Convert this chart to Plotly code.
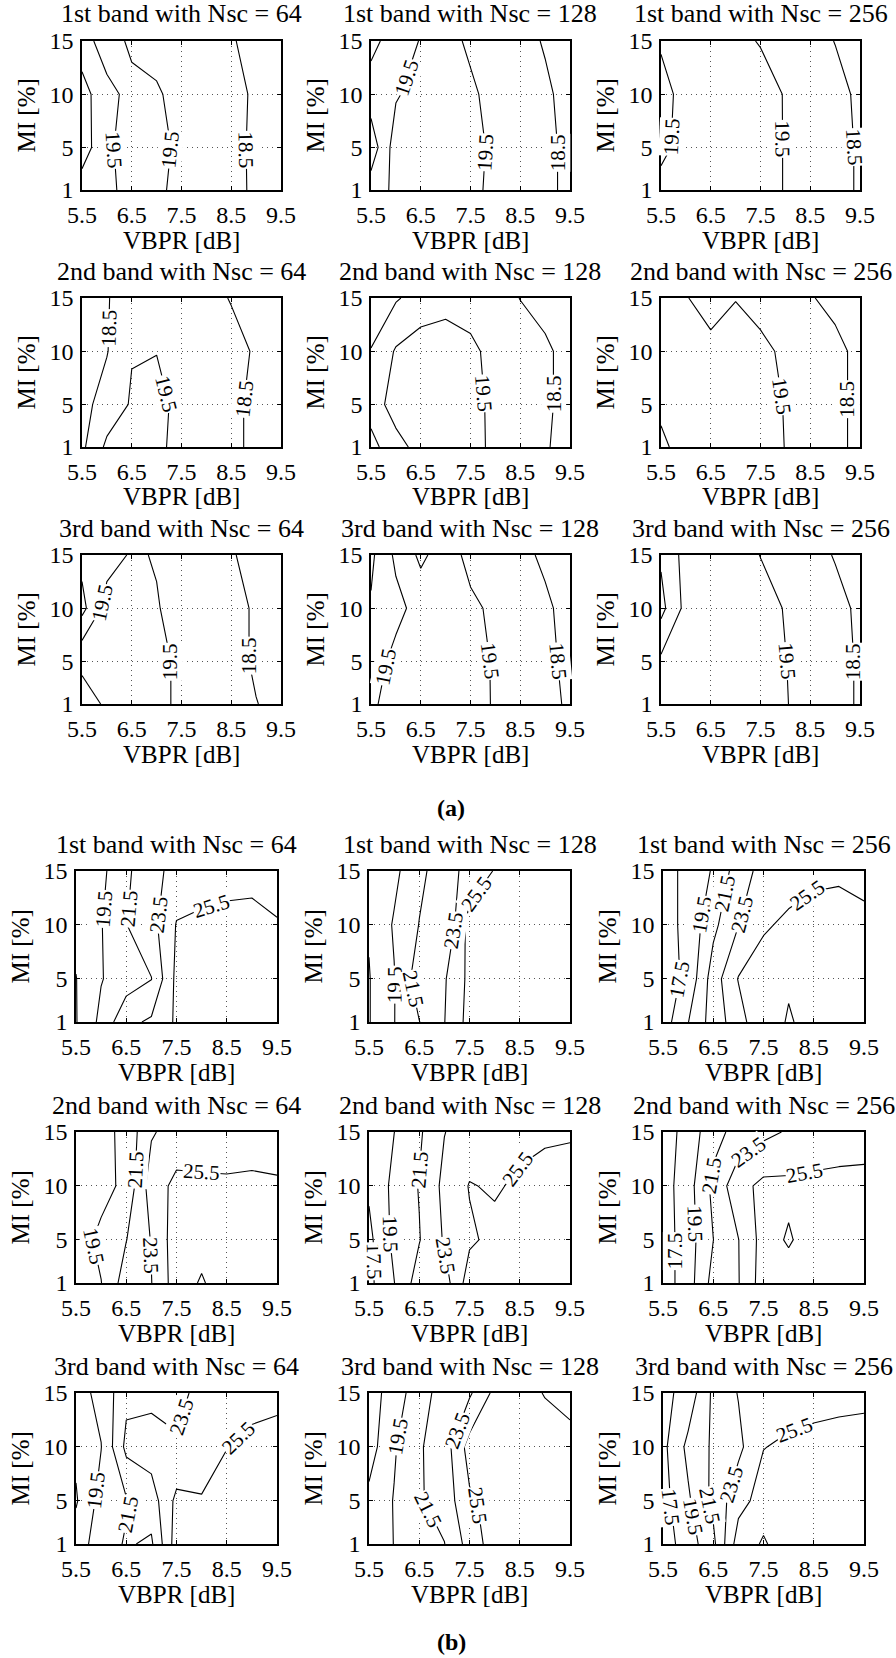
import math
import plotly.graph_objects as go

# Grid of the simulations
VBPR = [5.5, 6.0, 6.5, 7.0, 7.5, 8.0, 8.5, 9.0, 9.5]   # dB
MI = [1, 5, 10, 15]                                     # %
X_TICKS = [5.5, 6.5, 7.5, 8.5, 9.5]
X_TICK_TEXT = ["5.5", "6.5", "7.5", "8.5", "9.5"]
Y_TICKS = [1, 5, 10, 15]
Y_TICK_TEXT = ["1", "5", "10", "15"]
BANDS = ["1st", "2nd", "3rd"]
NSC = [64, 128, 256]

# ---- (a) : rows are MI = 1, 5, 10, 15 ; columns are VBPR 5.5 ... 9.5 ----
a_1st_64 = [
    [19.0, 19.3, 19.8, 19.7, 19.2, 18.9, 18.7, 18.38, 18.1],
    [18.0, 19.3, 20.0, 19.9, 19.2, 18.9, 18.65, 18.4, 18.2],
    [18.1, 19.2, 19.8, 19.6, 19.2, 19.0, 18.7, 18.4, 18.2],
    [19.05, 20.0, 19.3, 19.2, 19.0, 18.8, 18.55, 18.3, 18.1],
]
a_1st_128 = [
    [19.0, 19.7, 20.0, 19.9, 19.7, 19.3, 19.0, 18.7, 18.3],
    [17.9, 20.0, 20.1, 20.0, 19.8, 19.3, 19.0, 18.7, 18.3],
    [19.0, 19.4, 19.9, 19.9, 19.6, 19.3, 19.0, 18.6, 18.3],
    [18.2, 19.0, 19.55, 19.7, 19.4, 19.0, 18.7, 18.45, 18.2],
]
a_1st_256 = [
    [19.9, 20.0, 20.1, 20.1, 19.9, 19.45, 19.1, 18.8, 18.4],
    [19.2, 19.95, 20.1, 20.1, 19.9, 19.45, 19.1, 18.8, 18.4],
    [19.2, 19.8, 20.0, 20.0, 19.85, 19.45, 19.1, 18.75, 18.35],
    [19.6, 19.8, 19.8, 19.7, 19.45, 19.1, 18.8, 18.48, 18.2],
]
a_2nd_64 = [
    [18.3, 19.7, 20.0, 19.7, 19.2, 19.0, 18.7, 18.3, 18.1],
    [18.2, 18.9, 19.6, 19.75, 19.25, 19.0, 18.7, 18.3, 18.1],
    [18.2, 18.45, 19.45, 19.48, 19.2, 19.0, 18.8, 18.4, 18.1],
    [18.1, 18.45, 18.9, 19.0, 19.0, 18.8, 18.45, 18.2, 18.0],
]
a_2nd_128 = [
    [18.2, 19.1, 19.9, 20.0, 19.8, 19.3, 19.0, 18.55, 18.3],
    [18.9, 20.0, 20.2, 20.2, 19.9, 19.2, 18.95, 18.6, 18.3],
    [18.52, 19.6, 20.0, 19.95, 19.7, 19.2, 18.95, 18.6, 18.3],
    [18.2, 18.4, 18.9, 19.2, 19.1, 18.9, 18.48, 18.3, 18.1],
]
a_2nd_256 = [
    [20.6, 20.3, 20.2, 20.1, 19.9, 19.48, 19.1, 18.7, 18.3],
    [20.4, 20.3, 20.2, 20.1, 19.9, 19.45, 19.1, 18.7, 18.3],
    [20.2, 20.1, 20.0, 19.9, 19.7, 19.35, 19.0, 18.7, 18.3],
    [20.0, 19.6, 18.75, 19.47, 19.2, 19.0, 18.55, 18.3, 18.1],
]
a_3rd_64 = [
    [20.8, 20.4, 20.2, 19.9, 19.2, 19.0, 18.8, 18.52, 18.3],
    [20.35, 20.3, 20.2, 19.9, 19.2, 19.0, 18.75, 18.4, 18.2],
    [18.2, 19.9, 20.1, 19.55, 19.2, 19.0, 18.75, 18.4, 18.2],
    [18.8, 19.1, 19.6, 19.45, 19.2, 18.9, 18.55, 18.3, 18.1],
]
a_3rd_128 = [
    [19.3, 20.0, 20.2, 20.1, 19.9, 19.4, 19.1, 18.8, 18.35],
    [19.0, 19.8, 20.2, 20.1, 19.85, 19.4, 19.1, 18.7, 18.3],
    [18.6, 19.2, 19.9, 20.0, 19.7, 19.3, 19.0, 18.6, 18.3],
    [18.3, 19.7, 20.7, 20.0, 19.2, 19.0, 18.65, 18.4, 18.1],
]
a_3rd_256 = [
    [19.9, 20.0, 20.1, 20.1, 20.0, 19.55, 19.15, 18.8, 18.4],
    [19.7, 20.0, 20.1, 20.1, 19.95, 19.52, 19.15, 18.8, 18.4],
    [18.2, 19.8, 20.0, 20.0, 19.85, 19.45, 19.1, 18.75, 18.35],
    [18.64, 19.85, 20.0, 19.9, 19.48, 19.1, 18.8, 18.45, 18.2],
]

# ---- (b) ----
b_1st_64 = [
    [17.4, 20.0, 23.0, 23.8, 25.8, 26.2, 26.3, 26.4, 26.4],
    [17.45, 19.4, 20.5, 21.45, 26.0, 26.3, 26.4, 26.5, 26.5],
    [18.0, 19.4, 21.45, 22.8, 25.6, 25.8, 25.9, 25.9, 25.55],
    [18.0, 19.0, 21.2, 22.6, 24.4, 24.8, 25.0, 25.1, 25.2],
]
b_1st_128 = [
    [17.4, 19.45, 21.45, 23.45, 26.2, 26.5, 26.6, 26.7, 26.7],
    [17.4, 19.4, 22.6, 23.3, 26.0, 26.4, 26.5, 26.6, 26.7],
    [17.65, 19.7, 21.55, 21.6, 26.3, 26.5, 26.6, 26.7, 26.8],
    [18.0, 19.0, 21.1, 22.4, 24.3, 25.6, 26.2, 26.5, 26.6],
]
b_1st_256 = [
    [16.5, 19.45, 22.4, 24.6, 27.3, 25.2, 26.6, 26.8, 26.9],
    [16.5, 18.0, 22.5, 25.6, 26.3, 25.9, 26.6, 26.8, 26.9],
    [16.8, 18.0, 21.0, 23.45, 25.3, 25.8, 26.0, 26.0, 25.9],
    [16.8, 18.0, 19.7, 22.5, 24.2, 24.8, 25.2, 25.3, 25.0],
]
b_2nd_64 = [
    [18.0, 19.45, 22.5, 23.45, 26.5, 25.3, 26.6, 26.8, 26.8],
    [18.5, 20.0, 21.45, 23.6, 26.6, 26.2, 26.5, 26.7, 26.7],
    [18.2, 18.8, 20.0, 24.5, 26.0, 25.8, 25.7, 25.7, 25.6],
    [18.0, 18.8, 20.1, 23.3, 24.3, 24.6, 24.8, 25.0, 25.1],
]
b_2nd_128 = [
    [17.0, 19.45, 22.5, 22.6, 26.5, 26.8, 27.0, 27.0, 27.0],
    [17.0, 20.0, 21.4, 23.7, 25.2, 26.0, 26.5, 26.7, 26.8],
    [17.8, 20.0, 21.6, 24.0, 25.6, 25.3, 25.8, 26.2, 26.3],
    [18.0, 19.48, 21.2, 23.45, 24.4, 24.8, 25.0, 25.2, 25.3],
]
b_2nd_256 = [
    [16.5, 18.6, 22.2, 23.4, 26.5, 26.4, 26.5, 26.6, 26.6],
    [16.5, 18.6, 21.48, 23.45, 26.3, 25.3, 26.4, 26.5, 26.5],
    [16.6, 18.7, 22.0, 24.8, 26.0, 25.93, 26.0, 26.0, 25.9],
    [16.5, 18.3, 20.8, 22.2, 23.0, 23.7, 24.2, 24.6, 24.9],
]
b_3rd_64 = [
    [18.5, 20.5, 21.7, 21.2, 26.5, 26.6, 26.8, 26.9, 26.9],
    [17.3, 20.2, 21.3, 22.5, 26.0, 25.6, 26.4, 26.6, 26.7],
    [17.9, 19.45, 24.0, 24.5, 23.7, 24.8, 25.45, 26.0, 26.2],
    [18.8, 20.0, 23.0, 22.9, 23.0, 24.0, 24.5, 24.8, 25.0],
]
b_3rd_128 = [
    [18.0, 19.55, 20.5, 21.45, 24.3, 26.5, 26.8, 26.9, 27.0],
    [18.0, 19.6, 21.3, 22.3, 25.2, 26.2, 26.6, 26.8, 26.9],
    [16.6, 19.3, 21.3, 22.5, 26.3, 26.5, 26.6, 26.5, 26.2],
    [16.5, 18.5, 20.6, 22.4, 23.2, 26.0, 26.3, 25.4, 24.8],
]
b_3rd_256 = [
    [16.5, 18.5, 21.0, 26.5, 25.3, 26.5, 26.7, 26.8, 26.9],
    [16.8, 19.2, 22.0, 24.8, 26.3, 26.4, 26.6, 26.7, 26.8],
    [17.0, 20.0, 21.8, 23.0, 25.45, 25.8, 25.9, 26.0, 26.0],
    [16.9, 18.3, 21.9, 23.6, 24.3, 24.7, 25.0, 25.1, 25.2],
]

PANELS = {
    "a": [[a_1st_64, a_1st_128, a_1st_256],
          [a_2nd_64, a_2nd_128, a_2nd_256],
          [a_3rd_64, a_3rd_128, a_3rd_256]],
    "b": [[b_1st_64, b_1st_128, b_1st_256],
          [b_2nd_64, b_2nd_128, b_2nd_256],
          [b_3rd_64, b_3rd_128, b_3rd_256]],
}
LEVELS = {"a": (17.5, 20.5, 1.0), "b": (17.5, 25.5, 2.0)}

# Inline contour labels: (level, approximate VBPR, approximate MI) where the label sits
LABEL_SPOTS = {
    "a": [
        [[(19.5, 6.15, 4.8), (19.5, 7.3, 4.8), (18.5, 8.83, 4.8)],
         [(19.5, 6.25, 11.5), (19.5, 7.8, 4.5), (18.5, 9.2, 4.5)],
         [(19.5, 5.7, 6.0), (19.5, 7.95, 5.8), (18.5, 9.37, 5.0)]],
        [[(18.5, 6.05, 12.2), (19.5, 7.2, 6.0), (18.5, 8.8, 5.5)],
         [(19.5, 7.75, 6.0), (18.5, 9.15, 6.0)],
         [(19.5, 7.95, 5.8), (18.5, 9.25, 5.5)]],
        [[(19.5, 5.9, 10.5), (19.5, 7.3, 5.0), (18.5, 8.85, 5.5)],
         [(19.5, 5.8, 4.5), (19.5, 7.85, 5.0), (18.5, 9.25, 5.0)],
         [(19.5, 8.0, 5.0), (18.5, 9.4, 5.0)]],
    ],
    "b": [
        [[(19.5, 6.05, 11.5), (21.5, 6.6, 11.5), (23.5, 7.15, 11.0), (25.5, 8.2, 11.8)],
         [(19.5, 5.98, 4.5), (21.5, 6.35, 4.0), (23.5, 7.2, 9.5), (25.5, 7.6, 13.0)],
         [(17.5, 5.8, 5.0), (19.5, 6.25, 11.0), (21.5, 6.7, 13.0), (23.5, 7.1, 11.0),
          (25.5, 8.3, 13.3)]],
        [[(19.5, 5.9, 4.5), (21.5, 6.7, 11.5), (23.5, 6.95, 3.5), (25.5, 8.0, 11.0)],
         [(17.5, 5.56, 3.0), (19.5, 5.92, 5.5), (21.5, 6.5, 11.5), (23.5, 7.0, 3.5),
          (25.5, 8.4, 11.8)],
         [(17.5, 5.75, 4.0), (19.5, 6.1, 6.5), (21.5, 6.4, 11.0), (23.5, 7.2, 13.2),
          (25.5, 8.3, 11.6)]],
        [[(19.5, 5.85, 6.0), (21.5, 6.55, 3.8), (23.5, 7.6, 12.8), (25.5, 8.7, 11.0)],
         [(19.5, 6.05, 11.0), (21.5, 6.6, 4.0), (23.5, 7.25, 11.5), (25.5, 7.6, 4.5)],
         [(17.5, 5.7, 4.5), (19.5, 6.05, 3.5), (21.5, 6.4, 4.5), (23.5, 6.9, 6.5),
          (25.5, 8.0, 13.0)]],
    ],
}

# Page geometry (pixels)
W, H = 896, 1658
GEOM = {
    "a": {"lefts": [82, 371, 661], "width": 199, "tops": [41, 298, 555], "height": 149,
          "tag_y": 808},
    "b": {"lefts": [76, 369, 663], "width": 201, "tops": [871, 1132, 1393], "height": 151,
          "tag_y": 1642},
}
FONT = "Liberation Serif"


def contour_segments(z, level):
    """Marching-squares segments of one level on the VBPR x MI grid (linear on edges)."""
    segs = []

    def cross(xa, ya, za, xb, yb, zb):
        t = (level - za) / (zb - za)
        return (xa + t * (xb - xa), ya + t * (yb - ya))

    for j in range(len(MI) - 1):
        for i in range(len(VBPR) - 1):
            x0, x1, y0, y1 = VBPR[i], VBPR[i + 1], MI[j], MI[j + 1]
            z00, z10, z01, z11 = z[j][i], z[j][i + 1], z[j + 1][i], z[j + 1][i + 1]
            pts = []
            if (z00 - level) * (z10 - level) < 0:
                pts.append(cross(x0, y0, z00, x1, y0, z10))
            if (z10 - level) * (z11 - level) < 0:
                pts.append(cross(x1, y0, z10, x1, y1, z11))
            if (z11 - level) * (z01 - level) < 0:
                pts.append(cross(x1, y1, z11, x0, y1, z01))
            if (z01 - level) * (z00 - level) < 0:
                pts.append(cross(x0, y1, z01, x0, y0, z00))
            if len(pts) == 2:
                segs.append((pts[0], pts[1]))
            elif len(pts) == 4:
                segs.append((pts[0], pts[1]))
                segs.append((pts[2], pts[3]))
    return segs


def label_spot(z, level, xh, yh, pxx, pxy):
    """Point of the level line nearest the requested spot, with its screen angle."""
    best = None
    for (xa, ya), (xb, yb) in contour_segments(z, level):
        ax, ay = xa * pxx, ya * pxy
        bx, by = xb * pxx, yb * pxy
        hx, hy = xh * pxx, yh * pxy
        dx, dy = bx - ax, by - ay
        L2 = dx * dx + dy * dy
        if L2 == 0:
            continue
        t = max(0.0, min(1.0, ((hx - ax) * dx + (hy - ay) * dy) / L2))
        px, py = ax + t * dx, ay + t * dy
        d = (px - hx) ** 2 + (py - hy) ** 2
        if best is None or d < best[0]:
            ang = math.degrees(math.atan2(dy, dx))
            if ang > 90:
                ang -= 180
            elif ang <= -90:
                ang += 180
            best = (d, px / pxx, py / pxy, -ang)
    return best


fig = go.Figure()
annotations = []
layout_axes = {}
k = 0
for part in ("a", "b"):
    g = GEOM[part]
    start, end, size = LEVELS[part]
    pxx = g["width"] / (VBPR[-1] - VBPR[0])
    pxy = g["height"] / (MI[-1] - MI[0])
    for r in range(3):
        for c in range(3):
            k += 1
            xname = "x" if k == 1 else f"x{k}"
            yname = "y" if k == 1 else f"y{k}"
            left = g["lefts"][c]
            right = left + g["width"]
            top = g["tops"][r]
            bottom = top + g["height"]
            z = PANELS[part][r][c]

            fig.add_trace(go.Contour(
                x=VBPR, y=MI, z=z,
                xaxis=xname, yaxis=yname,
                autocontour=False,
                contours=dict(start=start, end=end, size=size, coloring="none",
                              showlabels=False),
                line=dict(color="black", width=1.1, smoothing=0),
                showscale=False, hoverinfo="skip",
            ))

            for level, xh, yh in LABEL_SPOTS[part][r][c]:
                spot = label_spot(z, level, xh, yh, pxx, pxy)
                if spot is None:
                    continue
                _, lx, ly, ang = spot
                annotations.append(dict(
                    text=f"{level:.1f}", x=lx, y=ly, xref=xname, yref=yname,
                    xanchor="center", yanchor="middle", textangle=ang,
                    showarrow=False, bgcolor="white", borderpad=0,
                    font=dict(family=FONT, size=21, color="black")))

            axis_common = dict(
                showline=True, linecolor="black", linewidth=1.5, mirror="ticks",
                ticks="inside", ticklen=4, tickwidth=1, tickcolor="black",
                showgrid=True, gridcolor="#555555", gridwidth=1, griddash="1px,4px",
                zeroline=False, fixedrange=True, automargin=False,
                tickfont=dict(family=FONT, size=24, color="black"),
                ticklabelstandoff=2,
            )
            layout_axes["xaxis" if k == 1 else f"xaxis{k}"] = dict(
                axis_common, domain=[left / W, right / W], anchor=yname,
                range=[5.5, 9.5], tickmode="array", tickvals=X_TICKS, ticktext=X_TICK_TEXT,
            )
            layout_axes["yaxis" if k == 1 else f"yaxis{k}"] = dict(
                axis_common, domain=[1 - bottom / H, 1 - top / H], anchor=xname,
                range=[1, 15], tickmode="array", tickvals=Y_TICKS, ticktext=Y_TICK_TEXT,
            )

            cx = (left + right) / 2
            annotations.append(dict(
                text=f"{BANDS[r]} band with Nsc = {NSC[c]}",
                x=cx / W, y=1 - (top - 27) / H, xref="paper", yref="paper",
                xanchor="center", yanchor="middle", showarrow=False,
                font=dict(family=FONT, size=26, color="black")))
            annotations.append(dict(
                text="VBPR [dB]", x=cx / W, y=1 - (bottom + 50) / H,
                xref="paper", yref="paper", xanchor="center", yanchor="middle",
                showarrow=False, font=dict(family=FONT, size=25, color="black")))
            annotations.append(dict(
                text="MI [%]", x=(left - 56) / W, y=1 - (top + bottom) / 2 / H,
                xref="paper", yref="paper", xanchor="center", yanchor="middle",
                textangle=-90, showarrow=False,
                font=dict(family=FONT, size=25, color="black")))
    annotations.append(dict(
        text=f"<b>({part})</b>", x=451 / W, y=1 - g["tag_y"] / H,
        xref="paper", yref="paper", xanchor="center", yanchor="middle",
        showarrow=False, font=dict(family=FONT, size=24, color="black")))

fig.update_layout(
    width=W, height=H,
    margin=dict(l=0, r=0, t=0, b=0),
    paper_bgcolor="white", plot_bgcolor="white",
    showlegend=False,
    font=dict(family=FONT, color="black"),
    annotations=annotations,
    **layout_axes,
)

fig.write_html("out.html")
